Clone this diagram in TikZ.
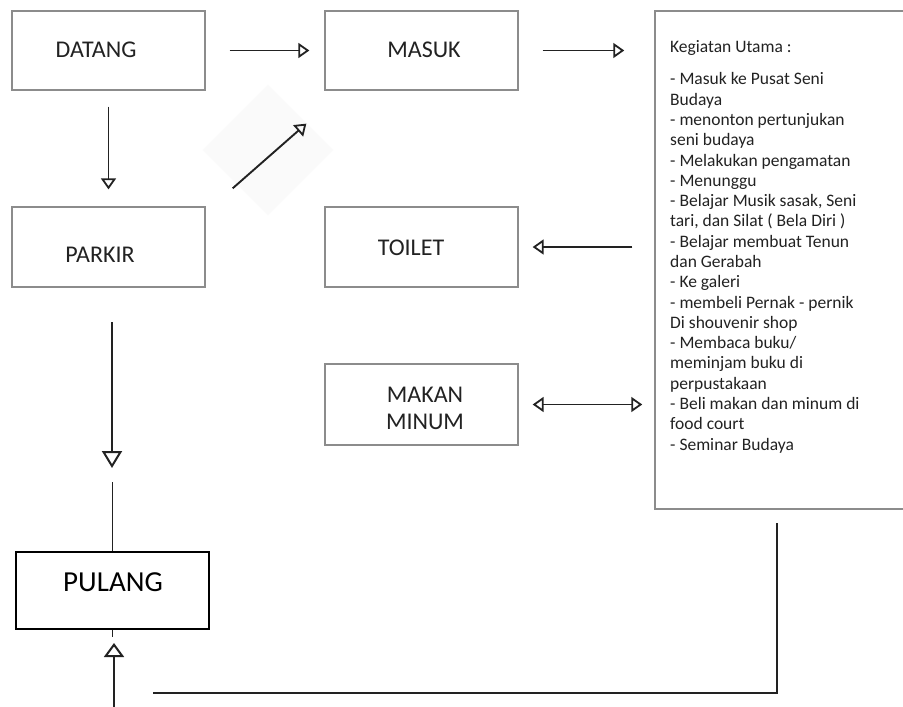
\documentclass[tikz,border=0pt]{standalone}
\usepackage{fontspec}
\setmainfont{Carlito}
\usetikzlibrary{arrows.meta,calc}
\definecolor{ink}{HTML}{222222}
\definecolor{boxline}{HTML}{8C8C8C}
\tikzset{
  box/.style={draw=boxline, line width=1.3pt, minimum width=193pt, inner sep=0pt},
  endbox/.style={draw=black, line width=2.4pt, minimum width=193pt, minimum height=77pt, inner sep=0pt},
  lbl/.style={text=ink, font=\fontsize{24}{26}\selectfont, inner sep=0pt, align=center},
  conn/.style={draw=ink, line width=1.9pt},
  arr/.style={conn, -{Triangle[open, length=11pt, width=15pt, line width=1.8pt]}},
  arrboth/.style={conn, {Triangle[open, length=11pt, width=15pt, line width=1.8pt]}-{Triangle[open, length=11pt, width=15pt, line width=1.8pt]}},
  bigarr/.style={conn, -{Triangle[open, length=17pt, width=20pt, line width=2pt]}},
}
\begin{document}
\begin{tikzpicture}[x=1pt, y=-1pt]
\useasboundingbox (0,0) rectangle (903,707);
\clip (0,0) rectangle (903,707);
\fill[white] (0,0) rectangle (903,707);

% faint square behind the slanted arrow
\fill[black!2, rotate around={45:(268,150)}] (222,104) rectangle (314,196);

% boxes
\node[box, minimum height=79pt] (datang) at (108.5,50.5) {};
\node[box, minimum height=79pt] (masuk)  at (421.5,50.5) {};
\node[box, minimum height=80pt] (parkir) at (108.5,247) {};
\node[box, minimum height=80pt] (toilet) at (421.5,247) {};
\node[box, minimum height=81pt] (makan)  at (421.5,404.5) {};
\node[endbox] (pulang) at (112.5,590.5) {};
\node[draw=boxline, line width=1.5pt, minimum width=260pt, minimum height=498pt, inner sep=0pt] (main) at (785,260) {};

% box labels
\node[lbl] (datang-t) at (96,50) {DATANG};
\node[lbl] (masuk-t)  at (424,50) {MASUK};
\node[lbl] (parkir-t) at (100,255) {PARKIR};
\node[lbl] (toilet-t) at (411,248) {TOILET};
\node[lbl, font=\fontsize{24}{27}\selectfont] (makan-t) at (425,408.5) {MAKAN\\MINUM};
\node[text=black, inner sep=0pt, font=\fontsize{29}{32}\selectfont] (pulang-t) at (113,582) {PULANG};

% activity list
\node[anchor=base west, inner sep=0pt, text=ink] (list) at (670,52) {%
\parbox[t]{230pt}{\raggedright\fontsize{17.5}{20.28}\selectfont
Kegiatan Utama :\\[12.7pt]
- Masuk ke Pusat Seni\\
Budaya\\
- menonton pertunjukan\\
seni budaya\\
- Melakukan pengamatan\\
- Menunggu\\
- Belajar Musik sasak, Seni\\
tari, dan Silat ( Bela Diri )\\
- Belajar membuat Tenun\\
dan Gerabah\\
- Ke galeri\\
- membeli Pernak - pernik\\
Di shouvenir shop\\
- Membaca buku/\\
meminjam buku di\\
perpustakaan\\
- Beli makan dan minum di\\
food court\\
- Seminar Budaya}};

% connectors
\draw[arr, shorten <=24pt, shorten >=15pt] (datang.east) -- (masuk.west);
\draw[arr, shorten <=24pt, shorten >=30pt] (masuk.east) -- (main.west |- masuk.east);
\draw[arr, shorten <=16pt, shorten >=17pt] (datang.south) -- (parkir.north);
\draw[arr] ($(parkir.north east)+(27,-18)$) -- ($(masuk.south west)+(-18,33)$);
\draw[arr, shorten <=22pt, shorten >=14pt] (main.west |- toilet.east) -- (toilet.east);
\draw[arrboth, shorten <=14pt, shorten >=12pt] (makan.east) -- (main.west |- makan.east);

% PARKIR down to PULANG
\coordinate (p1) at (112,322);
\coordinate (p2) at (112,468);
\coordinate (p3) at (112.5,482);
\draw[bigarr] (p1) -- (p2);
\draw[conn, line width=1.6pt] (p3) -- (pulang.north);

% return from the activity box back to PULANG
\coordinate (r1) at (777,523);
\coordinate (r2) at (777,693);
\coordinate (r3) at (153,693);
\draw[conn] (r1) -- (r2) -- (r3);
\coordinate (u1) at (114,712);
\coordinate (u2) at (114,643);
\draw[bigarr, -{Triangle[open, length=14pt, width=20pt, line width=2pt]}] (u1) -- (u2);
\draw[conn, line width=1.6pt] (pulang.south) -- ++(0,7);
\end{tikzpicture}
\end{document}
